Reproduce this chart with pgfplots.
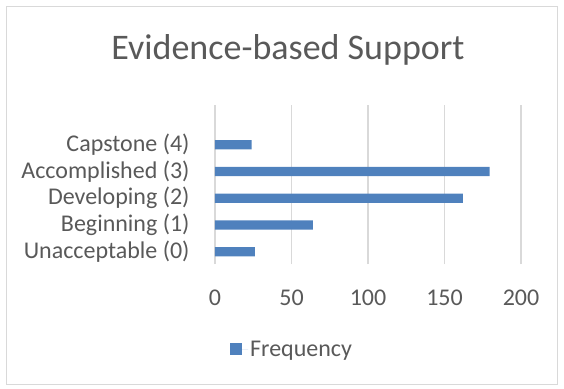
\documentclass[border=0pt]{standalone}
\usepackage{pgfplots}
\pgfplotsset{compat=1.18}
\usepackage{fontspec}
\setmainfont{Carlito}
\definecolor{barblue}{HTML}{4F81BD}
\definecolor{txtgray}{HTML}{595959}
\definecolor{gridgray}{HTML}{D9D9D9}
\begin{document}
\begin{tikzpicture}[x=1pt,y=1pt]
\path (-215,-124) rectangle (349,264);
\draw[gridgray, line width=1pt] (-208,-120) rectangle (342,257);
\begin{axis}[
  at={(0,0)}, anchor=south west,
  scale only axis, width=306pt, height=159pt,
  xbar, bar width=9.3pt,
  xmin=0, xmax=200, ymin=-0.46, ymax=5.49,
  xtick={0,50,100,150,200},
  ytick={0,1,2,3,4},
  yticklabels={Unacceptable (0),Beginning (1),Developing (2),Accomplished (3),Capstone (4)},
  xmajorgrids, major grid style={gridgray, line width=1.2pt},
  axis line style={draw=none}, tick style={draw=none},
  /pgf/number format/assume math mode=true,
  tick label style={font=\fontsize{24}{28}\selectfont, text=txtgray},
  xticklabel style={anchor=base, inner sep=0pt, yshift=-41pt},
  yticklabel style={anchor=east, inner sep=0pt, xshift=-21pt},
  legend style={at={(axis description cs:0.252,-0.535)}, anchor=center, draw=none, fill=none,
    font=\fontsize{24}{28}\selectfont, text=txtgray, inner sep=0pt},
  legend image code/.code={\fill[barblue] (0pt,-6pt) rectangle (12pt,6pt); \path (0pt,0pt) -- (18pt,0pt);},
]
\addplot[fill=barblue, draw=none] coordinates {(26,0) (64,1) (162,2) (179.5,3) (24,4)};
\addlegendentry{Frequency}
\end{axis}
\node[text=txtgray, font=\fontsize{36}{40}\selectfont] at (73,214) {Evidence-based Support};
\end{tikzpicture}
\end{document}
